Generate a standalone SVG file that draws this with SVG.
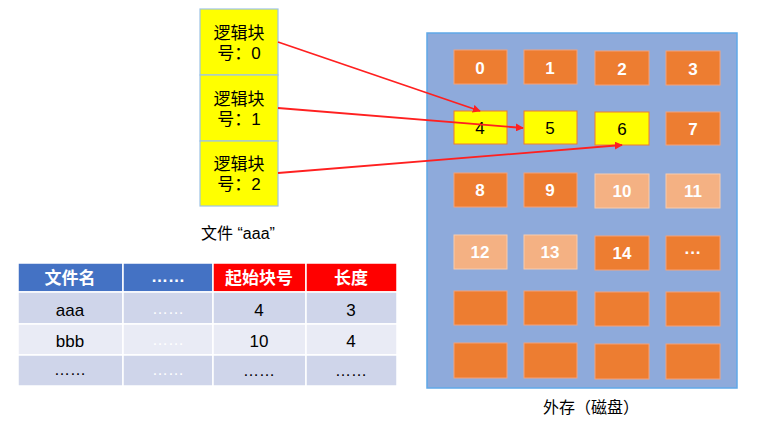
<svg xmlns="http://www.w3.org/2000/svg" width="763" height="421" viewBox="0 0 763 421">
<style>
text{font-family:"Liberation Sans","Noto Sans CJK SC",sans-serif;font-size:16px;text-anchor:middle;dominant-baseline:central}
.big{font-size:17px}
.lb{fill:#ffff00;stroke:#9dc3e6;stroke-width:1.2}
.blk{fill:#ed7d31;stroke:#f4a27a;stroke-width:1}
.lt{fill:#f4b183;stroke:#f8cbad;stroke-width:1}
.yl{fill:#ffff00;stroke:#ed7d31;stroke-width:1}
.wn{fill:#fff;font-weight:bold;font-size:17px}
.hd{fill:#fff;font-weight:bold;font-size:17px}
.conn{stroke:#ff2020;stroke-width:1.8;fill:none;marker-end:url(#ah)}
</style>
<defs>
<marker id="ah" viewBox="0 0 10 10" refX="9" refY="5" markerWidth="8" markerHeight="8" orient="auto" markerUnits="userSpaceOnUse">
<path d="M0,0 L10,5 L0,10 z" fill="#ff2020"/>
</marker>
</defs>
<rect width="763" height="421" fill="#fff"/>
<g id="file">
<g id="lb0"><rect class="lb" x="200" y="9" width="78" height="66"/><text class="big" x="239" y="33">逻辑块</text><text class="big" x="239" y="53">号：0</text></g>
<g id="lb1"><rect class="lb" x="200" y="75" width="78" height="66"/><text class="big" x="239" y="99">逻辑块</text><text class="big" x="239" y="119">号：1</text></g>
<g id="lb2"><rect class="lb" x="200" y="141" width="78" height="65"/><text class="big" x="239" y="164">逻辑块</text><text class="big" x="239" y="184">号：2</text></g>
<text x="238" y="233">文件 “aaa”</text>
</g>
<g id="disk">
<rect x="427" y="33" width="310" height="355" fill="#8eaadb" stroke="#5fa8e8" stroke-width="1.5"/>
<g id="b0"><rect class="blk" x="454" y="50" width="53" height="34"/><text class="wn" x="480" y="68">0</text></g>
<g id="b1"><rect class="blk" x="524" y="50" width="53" height="34"/><text class="wn" x="550" y="68">1</text></g>
<g id="b2"><rect class="blk" x="595" y="51" width="54" height="34"/><text class="wn" x="622" y="69">2</text></g>
<g id="b3"><rect class="blk" x="666" y="51" width="54" height="34"/><text class="wn" x="693" y="69">3</text></g>
<g id="b4"><rect class="yl" x="454" y="111" width="53" height="33"/><text class="big" x="480" y="128">4</text></g>
<g id="b5"><rect class="yl" x="524" y="111" width="53" height="33"/><text class="big" x="550" y="128">5</text></g>
<g id="b6"><rect class="yl" x="595" y="112" width="54" height="33"/><text class="big" x="622" y="129">6</text></g>
<g id="b7"><rect class="blk" x="666" y="112" width="54" height="33"/><text class="wn" x="693" y="129">7</text></g>
<g id="b8"><rect class="blk" x="454" y="173" width="53" height="34"/><text class="wn" x="480" y="190">8</text></g>
<g id="b9"><rect class="blk" x="524" y="173" width="53" height="34"/><text class="wn" x="550" y="190">9</text></g>
<g id="b10"><rect class="lt" x="595" y="174" width="54" height="34"/><text class="wn" x="622" y="191">10</text></g>
<g id="b11"><rect class="lt" x="666" y="174" width="54" height="34"/><text class="wn" x="693" y="191">11</text></g>
<g id="b12"><rect class="lt" x="454" y="235" width="53" height="34"/><text class="wn" x="480" y="252">12</text></g>
<g id="b13"><rect class="lt" x="524" y="235" width="53" height="34"/><text class="wn" x="550" y="252">13</text></g>
<g id="b14"><rect class="blk" x="595" y="236" width="54" height="34"/><text class="wn" x="622" y="253">14</text></g>
<g id="b15"><rect class="blk" x="666" y="236" width="54" height="34"/><text class="wn" x="693" y="252">···</text></g>
<g id="b16"><rect class="blk" x="454" y="291" width="53" height="34"/></g>
<g id="b17"><rect class="blk" x="524" y="291" width="53" height="34"/></g>
<g id="b18"><rect class="blk" x="595" y="292" width="54" height="34"/></g>
<g id="b19"><rect class="blk" x="666" y="292" width="54" height="34"/></g>
<g id="b20"><rect class="blk" x="454" y="343" width="53" height="35"/></g>
<g id="b21"><rect class="blk" x="524" y="343" width="53" height="35"/></g>
<g id="b22"><rect class="blk" x="595" y="344" width="54" height="35"/></g>
<g id="b23"><rect class="blk" x="666" y="344" width="54" height="35"/></g>
<text x="591" y="407">外存（磁盘）</text>
</g>
<g id="table" stroke="#fff" stroke-width="1.5">
<rect x="18" y="263" width="105" height="29" fill="#4472c4"/>
<rect x="123" y="263" width="90" height="29" fill="#4472c4"/>
<rect x="213" y="263" width="93" height="29" fill="#ff0000"/>
<rect x="306" y="263" width="91" height="29" fill="#ff0000"/>
<rect x="18" y="292" width="105" height="32" fill="#cfd5ea"/>
<rect x="123" y="292" width="90" height="32" fill="#cfd5ea"/>
<rect x="213" y="292" width="93" height="32" fill="#cfd5ea"/>
<rect x="306" y="292" width="91" height="32" fill="#cfd5ea"/>
<rect x="18" y="324" width="105" height="31" fill="#e9ebf5"/>
<rect x="123" y="324" width="90" height="31" fill="#e9ebf5"/>
<rect x="213" y="324" width="93" height="31" fill="#e9ebf5"/>
<rect x="306" y="324" width="91" height="31" fill="#e9ebf5"/>
<rect x="18" y="355" width="105" height="31" fill="#cfd5ea"/>
<rect x="123" y="355" width="90" height="31" fill="#cfd5ea"/>
<rect x="213" y="355" width="93" height="31" fill="#cfd5ea"/>
<rect x="306" y="355" width="91" height="31" fill="#cfd5ea"/>
</g>
<g id="table-text">
<text class="hd" x="70" y="278">文件名</text>
<text class="hd" x="168" y="276">……</text>
<text class="hd" x="259" y="278">起始块号</text>
<text class="hd" x="351" y="278">长度</text>
<text class="big" x="70" y="310">aaa</text>
<text x="168" y="308" fill="#fff">……</text>
<text class="big" x="259" y="310">4</text>
<text class="big" x="351" y="310">3</text>
<text class="big" x="70" y="341">bbb</text>
<text x="168" y="339" fill="#fff">……</text>
<text class="big" x="259" y="341">10</text>
<text class="big" x="351" y="341">4</text>
<text x="70" y="369">……</text>
<text x="168" y="369" fill="#fff">……</text>
<text x="259" y="370">……</text>
<text x="351" y="370">……</text>
</g>
<g id="connectors">
<line class="conn" x1="278" y1="42" x2="480" y2="111"/>
<line class="conn" x1="278" y1="108" x2="523" y2="128"/>
<line class="conn" x1="278" y1="173" x2="622" y2="145"/>
</g>
</svg>
